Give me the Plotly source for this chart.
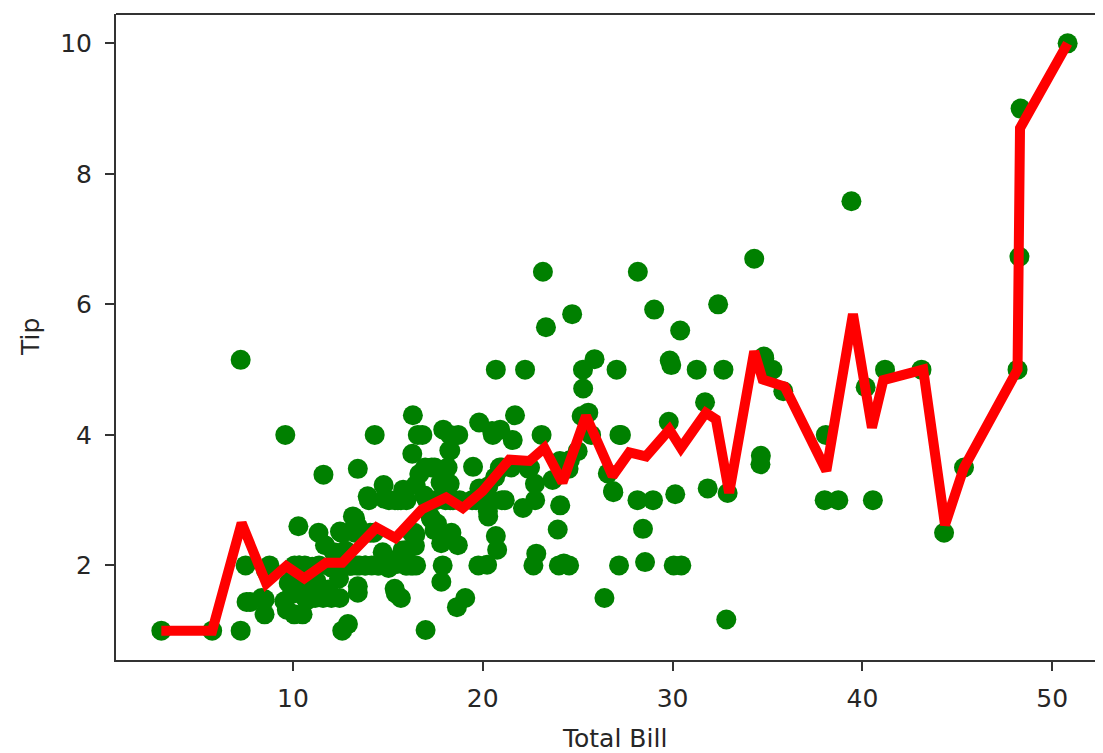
import plotly.graph_objects as go

# Scatter data (total bill vs tip)
total_bill = [16.99, 10.34, 21.01, 23.68, 24.59, 25.29, 8.77, 26.88, 15.04, 14.78,
              10.27, 35.26, 15.42, 18.43, 14.83, 21.58, 10.33, 16.29, 16.97, 20.65,
              17.92, 20.29, 15.77, 39.42, 19.82, 17.81, 13.37, 12.69, 21.70, 19.65,
              9.55, 18.35, 15.06, 20.69, 17.78, 24.06, 16.31, 16.93, 18.69, 31.27,
              16.04, 17.46, 13.94, 9.68, 30.40, 18.29, 22.23, 32.40, 28.55, 18.04,
              12.54, 10.29, 34.81, 9.94, 25.56, 19.49, 38.01, 26.41, 11.24, 48.27,
              20.29, 13.81, 11.02, 18.29, 17.59, 20.08, 16.45, 3.07, 20.23, 15.01,
              12.02, 17.07, 26.86, 25.28, 14.73, 10.51, 17.92, 27.20, 22.76, 17.29,
              19.44, 16.66, 10.07, 32.68, 15.98, 34.83, 13.03, 18.28, 24.71, 21.16,
              28.97, 22.49, 5.75, 16.32, 22.75, 40.17, 27.28, 12.03, 21.01, 12.46,
              11.35, 15.38, 44.30, 22.42, 20.92, 15.36, 20.49, 25.21, 18.24, 14.31,
              14.00, 7.25, 38.07, 23.95, 25.71, 17.31, 29.93, 10.65, 12.43, 24.08,
              11.69, 13.42, 14.26, 15.95, 12.48, 29.80, 8.52, 14.52, 11.38, 22.82,
              19.08, 20.27, 11.17, 12.26, 18.26, 8.51, 10.33, 14.15, 16.00, 13.16,
              17.47, 34.30, 41.19, 27.05, 16.43, 8.35, 18.64, 11.87, 9.78, 7.51,
              14.07, 13.13, 17.26, 24.55, 19.77, 29.85, 48.17, 25.00, 13.39, 16.49,
              21.50, 12.66, 16.21, 13.81, 17.51, 24.52, 20.76, 31.71, 10.59, 10.63,
              50.81, 15.81, 7.25, 31.85, 16.82, 32.90, 17.89, 14.48, 9.60, 34.63,
              34.65, 23.33, 45.35, 23.17, 40.55, 20.69, 20.90, 30.46, 18.15, 23.10,
              15.69, 19.81, 28.44, 15.48, 16.58, 7.56, 10.34, 43.11, 13.00, 13.51,
              18.71, 12.74, 13.00, 16.40, 20.53, 16.47, 26.59, 38.73, 24.27, 12.76,
              30.06, 25.89, 48.33, 13.27, 28.17, 12.90, 28.15, 11.59, 7.74, 30.14,
              12.16, 13.42, 8.58, 15.98, 13.42, 16.27, 10.09, 20.45, 13.28, 22.12,
              24.01, 15.69, 11.61, 10.77, 15.53, 10.07, 12.60, 32.83, 35.83, 29.03,
              27.18, 22.67, 17.82, 18.78]
tip = [1.01, 1.66, 3.50, 3.31, 3.61, 4.71, 2.00, 3.12, 1.96, 3.23,
       1.71, 5.00, 1.57, 3.00, 3.02, 3.92, 1.67, 3.71, 3.50, 3.35,
       4.08, 2.75, 2.23, 7.58, 3.18, 2.34, 2.00, 2.00, 4.30, 3.00,
       1.45, 2.50, 3.00, 2.45, 3.27, 3.60, 2.00, 3.07, 2.31, 5.00,
       2.24, 2.54, 3.06, 1.32, 5.60, 3.00, 5.00, 6.00, 2.05, 3.00,
       2.50, 2.60, 5.20, 1.56, 4.34, 3.51, 3.00, 1.50, 1.76, 6.73,
       3.21, 2.00, 1.98, 3.76, 2.64, 3.15, 2.47, 1.00, 2.01, 2.09,
       1.97, 3.00, 3.14, 5.00, 2.20, 1.25, 3.08, 4.00, 3.00, 2.71,
       3.00, 3.40, 1.83, 5.00, 2.03, 5.17, 2.00, 4.00, 5.85, 3.00,
       3.00, 3.50, 1.00, 4.30, 3.25, 4.73, 4.00, 1.50, 3.00, 1.50,
       2.50, 3.00, 2.50, 3.48, 4.08, 1.64, 4.06, 4.29, 3.76, 4.00,
       3.00, 1.00, 4.00, 2.55, 4.00, 3.50, 5.07, 1.50, 1.80, 2.92,
       2.31, 1.68, 2.50, 2.00, 2.52, 4.20, 1.48, 2.00, 2.00, 2.18,
       1.50, 2.83, 1.50, 2.00, 3.25, 1.25, 2.00, 2.00, 2.00, 2.75,
       3.50, 6.70, 5.00, 5.00, 2.30, 1.50, 1.36, 1.63, 1.73, 2.00,
       2.50, 2.00, 2.74, 2.00, 2.00, 5.14, 5.00, 3.75, 2.61, 2.00,
       3.50, 2.50, 2.00, 2.00, 3.00, 3.48, 2.24, 4.50, 1.61, 2.00,
       10.00, 3.16, 5.15, 3.18, 4.00, 3.11, 2.00, 2.00, 4.00, 3.55,
       3.68, 5.65, 3.50, 6.50, 3.00, 5.00, 3.50, 2.00, 3.50, 4.00,
       1.50, 4.19, 2.56, 2.02, 4.00, 1.44, 2.00, 5.00, 2.00, 2.00,
       4.00, 2.01, 2.00, 2.50, 4.00, 3.23, 3.41, 3.00, 2.03, 2.23,
       2.00, 5.16, 9.00, 2.50, 6.50, 1.10, 3.00, 1.50, 1.44, 3.09,
       2.20, 3.48, 1.92, 3.00, 1.58, 2.50, 2.00, 3.00, 2.72, 2.88,
       2.00, 3.00, 3.39, 1.47, 3.00, 1.25, 1.00, 1.17, 4.67, 5.92,
       2.00, 2.00, 1.75, 3.00]

# Red trend line (vertices)
line_x = [3.07, 5.75, 7.30, 8.60, 9.65, 10.60, 11.75, 12.60, 14.40, 15.40,
          16.80, 18.07, 18.95, 20.00, 21.40, 22.46, 23.25, 24.20, 25.44, 26.84,
          27.72, 28.60, 29.83, 30.44, 31.75, 32.28, 32.98, 34.30, 34.74, 35.40,
          35.90, 38.10, 39.50, 40.50, 41.10, 43.20, 44.35, 45.35, 48.17, 48.30,
          50.81]
line_y = [1.00, 1.00, 2.65, 1.72, 1.99, 1.80, 2.04, 2.04, 2.58, 2.42,
          2.86, 3.04, 2.88, 3.14, 3.62, 3.60, 3.80, 3.27, 4.29, 3.37,
          3.73, 3.67, 4.08, 3.80, 4.34, 4.24, 3.11, 5.28, 4.85, 4.80,
          4.74, 3.45, 5.85, 4.11, 4.84, 5.00, 2.62, 3.50, 5.00, 8.70,
          10.00]

x_ticks = [10, 20, 30, 40, 50]
y_ticks = [2, 4, 6, 8, 10]
x_title = "Total Bill"
y_title = "Tip"

# The page body has an 8px margin, so the figure is sized to compensate.
OFF = 8
W, H = 1103 - OFF, 753 - OFF
L, R, T = 116 - OFF, 0, 14 - OFF
B = H - (660 - OFF)
plot_w = W - L - R
plot_h = H - T - B
px_per_unit = 18.985
x0 = 0.683
x1 = x0 + plot_w / px_per_unit

fig = go.Figure()
fig.add_trace(go.Scatter(
    x=total_bill, y=tip, mode="markers",
    marker=dict(color="#008000", size=20, line=dict(width=0)),
    showlegend=False, hoverinfo="skip"))
fig.add_trace(go.Scatter(
    x=line_x, y=line_y, mode="lines",
    line=dict(color="#ff0000", width=10),
    showlegend=False, hoverinfo="skip"))

font = dict(family="DejaVu Sans", size=25, color="#262626")
axis_common = dict(
    showgrid=False, zeroline=False, showline=True, linecolor="#333333",
    linewidth=2, ticks="outside", ticklen=9, tickwidth=1.5,
    tickcolor="#333333", tickfont=font)

fig.update_layout(
    width=W, height=H,
    margin=dict(l=L, r=R, t=T, b=B, autoexpand=False),
    plot_bgcolor="white", paper_bgcolor="white",
    xaxis=dict(range=[x0, x1], tickvals=x_ticks, ticklabelstandoff=6,
               **axis_common),
    yaxis=dict(range=[0.55, 10.45], tickvals=y_ticks, ticklabelstandoff=8,
               **axis_common),
    shapes=[dict(type="line", xref="paper", yref="paper", x0=0, x1=1,
                 y0=1, y1=1, line=dict(color="#333333", width=2))],
    annotations=[
        dict(text=x_title, xref="paper", yref="paper",
             x=(614 - 116) / plot_w, y=-78 / plot_h,
             xanchor="center", yanchor="middle", showarrow=False,
             font=font),
        dict(text=y_title, xref="paper", yref="paper",
             x=(30 - 116) / plot_w, y=0.5, textangle=-90,
             xanchor="center", yanchor="middle", showarrow=False,
             font=font),
    ],
)

fig.write_html("out.html")
